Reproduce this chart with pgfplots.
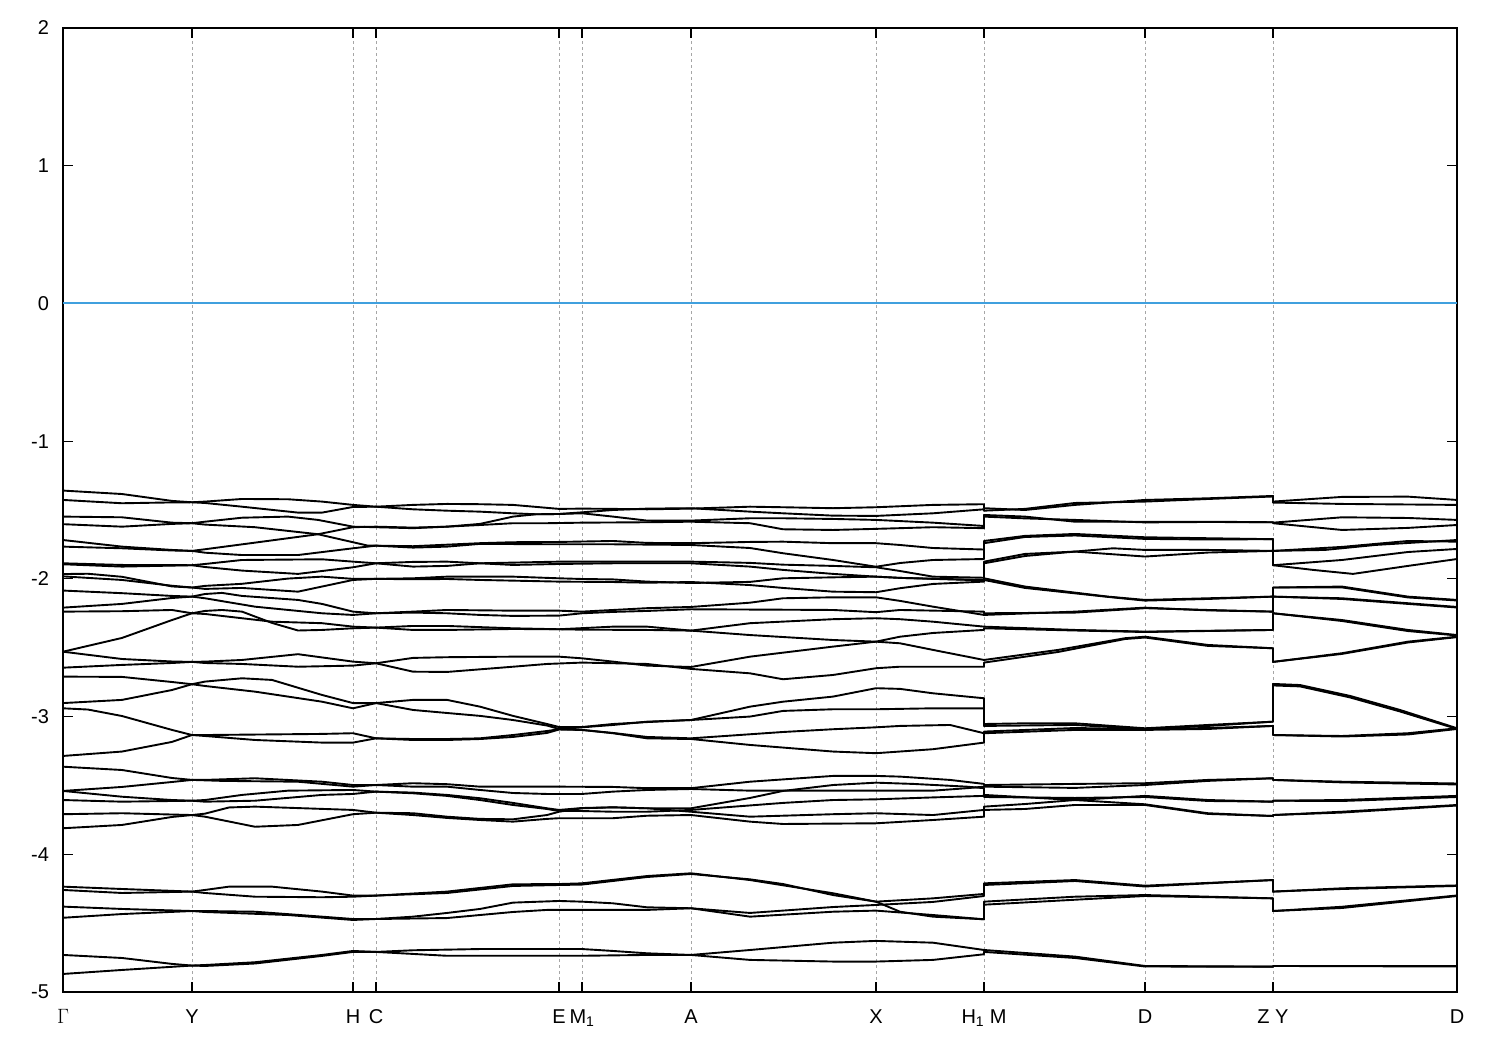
\documentclass[border=0pt]{standalone}
\usepackage{fontspec}
\setmainfont{Liberation Sans}
\usepackage{pgfplots}
\pgfplotsset{compat=1.18}
\definecolor{zeroblue}{RGB}{64,160,222}
\begin{document}
\begin{tikzpicture}[x=1pt,y=1pt]
\useasboundingbox (0,0) rectangle (1500,1050);
\begin{axis}[
 at={(63pt,58pt)}, anchor=south west,
 scale only axis, width=1394pt, height=964pt,
 xmin=0, xmax=1394, ymin=-5, ymax=2,
 ytick={-5,-4,-3,-2,-1,0,1,2},
 xtick={0,129,290,313,496,519,628,813,921,1082,1210,1394},
 xticklabels={$\Gamma$,Y,H,C,E,M\textsubscript{1},A,X,H\textsubscript{1} M,D,Z Y,D},
 xmajorgrids,
 major grid style={draw=black!35, line width=1pt, dash pattern=on 3pt off 3pt},
 tick align=inside, major tick length=10pt,
 axis line style={line width=1.8pt},
 tick style={line width=1.1pt, black},
 tick label style={font=\fontsize{20}{24}\selectfont},
 /pgf/number format/assume math mode=true,
 xticklabel style={yshift=-14pt},
 yticklabel style={xshift=-10.5pt},
 band/.style={black, line width=1.9pt, line join=round, mark=none},
]
\addplot[color=zeroblue, line width=2pt, mark=none] coordinates {(0,0) (1394,0)};
% band 1
\addplot[band] coordinates {(0,-1.359)(59,-1.384)(109,-1.434)(129,-1.444)(142,-1.439)(179,-1.420)(225,-1.422)(259,-1.439)(290,-1.463)(313,-1.476)(350,-1.463)(384,-1.456)(417,-1.458)(450,-1.463)(496,-1.492)(519,-1.490)(550,-1.492)(584,-1.495)(628,-1.490)(687,-1.476)(720,-1.480)(770,-1.487)(813,-1.480)(870,-1.463)(921,-1.458)(921,-1.487)(962,-1.500)(1012,-1.463)(1082,-1.427)(1145,-1.415)(1210,-1.398)(1210,-1.439)(1279,-1.405)(1345,-1.403)(1394,-1.427)};
% band 2
\addplot[band] coordinates {(0,-1.427)(59,-1.451)(109,-1.445)(129,-1.444)(142,-1.449)(179,-1.476)(235,-1.519)(259,-1.519)(290,-1.478)(313,-1.476)(350,-1.495)(384,-1.505)(417,-1.512)(450,-1.524)(473,-1.531)(496,-1.529)(519,-1.524)(550,-1.548)(584,-1.577)(628,-1.577)(687,-1.560)(720,-1.560)(770,-1.565)(813,-1.572)(870,-1.592)(921,-1.616)(921,-1.536)(962,-1.548)(1012,-1.585)(1082,-1.585)(1145,-1.585)(1210,-1.589)(1210,-1.592)(1279,-1.553)(1345,-1.558)(1394,-1.572)};
% band 3
\addplot[band] coordinates {(0,-1.548)(59,-1.553)(109,-1.592)(129,-1.596)(142,-1.585)(179,-1.556)(225,-1.548)(255,-1.572)(290,-1.621)(313,-1.625)(350,-1.632)(384,-1.621)(417,-1.601)(450,-1.548)(473,-1.531)(496,-1.529)(519,-1.517)(550,-1.500)(584,-1.490)(628,-1.487)(687,-1.512)(720,-1.524)(770,-1.541)(813,-1.543)(870,-1.524)(921,-1.495)(921,-1.505)(962,-1.492)(1012,-1.449)(1082,-1.439)(1145,-1.420)(1210,-1.402)(1210,-1.446)(1279,-1.456)(1345,-1.460)(1394,-1.463)};
% band 4
\addplot[band] coordinates {(0,-1.603)(59,-1.621)(109,-1.601)(129,-1.596)(142,-1.606)(192,-1.625)(255,-1.676)(305,-1.759)(313,-1.759)(350,-1.763)(417,-1.741)(450,-1.734)(496,-1.732)(550,-1.725)(584,-1.739)(628,-1.741)(687,-1.732)(720,-1.730)(770,-1.741)(813,-1.741)(837,-1.754)(870,-1.776)(921,-1.787)(921,-1.725)(962,-1.688)(1012,-1.674)(1082,-1.698)(1145,-1.705)(1210,-1.712)(1210,-1.797)(1262,-1.790)(1312,-1.754)(1394,-1.718)};
% band 5
\addplot[band] coordinates {(0,-1.718)(59,-1.766)(109,-1.790)(129,-1.797)(142,-1.785)(192,-1.737)(255,-1.676)(290,-1.625)(313,-1.621)(350,-1.628)(384,-1.621)(417,-1.609)(450,-1.596)(484,-1.596)(519,-1.592)(584,-1.589)(628,-1.585)(687,-1.596)(720,-1.640)(770,-1.645)(813,-1.637)(870,-1.625)(921,-1.632)(921,-1.548)(962,-1.561)(1012,-1.572)(1082,-1.590)(1145,-1.587)(1210,-1.589)(1210,-1.596)(1279,-1.645)(1345,-1.630)(1394,-1.609)};
% band 6
\addplot[band] coordinates {(0,-1.766)(59,-1.778)(109,-1.794)(129,-1.797)(142,-1.810)(179,-1.827)(235,-1.827)(290,-1.778)(313,-1.759)(350,-1.773)(384,-1.766)(417,-1.746)(496,-1.749)(550,-1.749)(628,-1.754)(687,-1.776)(720,-1.814)(770,-1.863)(813,-1.912)(837,-1.885)(870,-1.863)(921,-1.856)(921,-1.741)(962,-1.696)(1012,-1.685)(1082,-1.710)(1145,-1.714)(1210,-1.712)(1210,-1.797)(1279,-1.768)(1345,-1.725)(1394,-1.730)};
% band 7
\addplot[band] coordinates {(0,-1.887)(59,-1.899)(129,-1.901)(142,-1.892)(179,-1.863)(259,-1.858)(290,-1.875)(313,-1.887)(350,-1.911)(384,-1.906)(417,-1.887)(450,-1.882)(496,-1.875)(550,-1.875)(628,-1.875)(687,-1.884)(720,-1.897)(770,-1.906)(813,-1.916)(837,-1.943)(870,-1.984)(921,-1.992)(921,-1.875)(962,-1.819)(1012,-1.802)(1050,-1.778)(1082,-1.790)(1145,-1.790)(1210,-1.797)(1210,-1.901)(1279,-1.863)(1345,-1.805)(1394,-1.783)};
% band 8
\addplot[band] coordinates {(0,-1.894)(59,-1.911)(129,-1.901)(142,-1.914)(179,-1.940)(235,-1.964)(290,-1.916)(313,-1.887)(350,-1.877)(384,-1.875)(417,-1.887)(450,-1.899)(496,-1.892)(550,-1.887)(628,-1.887)(687,-1.911)(720,-1.935)(770,-1.964)(813,-1.984)(837,-1.993)(921,-2.008)(921,-1.887)(962,-1.834)(1012,-1.802)(1082,-1.838)(1145,-1.809)(1210,-1.797)(1210,-1.901)(1250,-1.935)(1290,-1.964)(1345,-1.906)(1394,-1.856)};
% band 9
\addplot[band] coordinates {(0,-1.965)(25,-1.963)(59,-1.985)(109,-2.055)(129,-2.063)(142,-2.051)(179,-2.036)(225,-1.998)(259,-1.984)(290,-2.000)(313,-2.000)(350,-1.996)(384,-1.984)(450,-1.984)(496,-1.996)(519,-2.001)(550,-2.004)(584,-2.020)(628,-2.030)(687,-2.022)(720,-1.996)(770,-1.989)(813,-1.984)(837,-1.993)(921,-2.011)(921,-1.996)(962,-2.056)(1045,-2.129)(1082,-2.153)(1145,-2.141)(1210,-2.129)(1210,-2.063)(1279,-2.056)(1345,-2.129)(1394,-2.153)};
% band 10
\addplot[band] coordinates {(0,-1.982)(59,-2.008)(109,-2.050)(129,-2.063)(142,-2.073)(179,-2.066)(235,-2.093)(290,-2.008)(313,-2.000)(350,-2.003)(384,-2.001)(417,-2.008)(450,-2.013)(496,-2.020)(550,-2.023)(584,-2.028)(628,-2.023)(687,-2.045)(720,-2.066)(770,-2.093)(813,-2.097)(837,-2.068)(870,-2.037)(921,-2.020)(921,-2.008)(962,-2.066)(1045,-2.131)(1082,-2.158)(1145,-2.146)(1210,-2.129)(1210,-2.063)(1279,-2.062)(1345,-2.135)(1394,-2.157)};
% band 11
\addplot[band] coordinates {(0,-2.085)(59,-2.104)(109,-2.124)(129,-2.129)(142,-2.110)(159,-2.102)(179,-2.124)(235,-2.153)(259,-2.182)(290,-2.238)(313,-2.250)(350,-2.238)(384,-2.226)(450,-2.231)(496,-2.231)(519,-2.238)(550,-2.226)(584,-2.213)(628,-2.204)(687,-2.173)(720,-2.141)(770,-2.134)(813,-2.134)(837,-2.160)(870,-2.202)(921,-2.262)(921,-2.262)(1012,-2.238)(1082,-2.209)(1145,-2.229)(1210,-2.238)(1210,-2.129)(1279,-2.146)(1345,-2.182)(1394,-2.208)};
% band 12
\addplot[band] coordinates {(0,-2.209)(59,-2.182)(109,-2.139)(129,-2.129)(142,-2.141)(192,-2.202)(259,-2.250)(290,-2.262)(313,-2.250)(350,-2.245)(384,-2.250)(417,-2.262)(450,-2.269)(496,-2.267)(519,-2.250)(550,-2.240)(584,-2.233)(628,-2.221)(720,-2.224)(770,-2.226)(813,-2.242)(837,-2.226)(921,-2.238)(921,-2.250)(1012,-2.245)(1082,-2.213)(1145,-2.226)(1210,-2.238)(1210,-2.129)(1279,-2.141)(1345,-2.177)(1394,-2.204)};
% band 13
\addplot[band] coordinates {(0,-2.238)(59,-2.235)(109,-2.226)(129,-2.250)(142,-2.255)(179,-2.286)(209,-2.311)(259,-2.322)(290,-2.347)(313,-2.354)(350,-2.342)(384,-2.342)(450,-2.359)(496,-2.366)(519,-2.369)(584,-2.371)(628,-2.376)(687,-2.322)(770,-2.293)(813,-2.286)(837,-2.293)(870,-2.311)(921,-2.347)(921,-2.347)(1012,-2.371)(1082,-2.383)(1210,-2.371)(1210,-2.250)(1279,-2.299)(1345,-2.371)(1394,-2.408)};
% band 14
\addplot[band] coordinates {(0,-2.529)(59,-2.429)(109,-2.299)(129,-2.250)(142,-2.233)(159,-2.226)(179,-2.238)(209,-2.320)(235,-2.375)(259,-2.371)(290,-2.359)(313,-2.354)(350,-2.371)(384,-2.371)(450,-2.364)(496,-2.366)(550,-2.347)(584,-2.347)(610,-2.364)(628,-2.376)(687,-2.408)(770,-2.444)(813,-2.456)(837,-2.468)(870,-2.516)(921,-2.589)(921,-2.589)(995,-2.516)(1062,-2.431)(1082,-2.420)(1145,-2.480)(1210,-2.504)(1210,-2.603)(1279,-2.540)(1345,-2.456)(1394,-2.420)};
% band 15
\addplot[band] coordinates {(0,-2.529)(59,-2.582)(109,-2.600)(129,-2.603)(142,-2.601)(179,-2.589)(235,-2.547)(290,-2.601)(313,-2.613)(350,-2.574)(384,-2.569)(450,-2.565)(496,-2.565)(519,-2.577)(550,-2.601)(584,-2.630)(628,-2.640)(687,-2.565)(770,-2.492)(813,-2.456)(837,-2.420)(870,-2.393)(921,-2.371)(921,-2.359)(1012,-2.375)(1082,-2.386)(1210,-2.371)(1210,-2.250)(1279,-2.306)(1345,-2.379)(1394,-2.411)};
% band 16
\addplot[band] coordinates {(0,-2.645)(59,-2.625)(109,-2.611)(129,-2.603)(142,-2.611)(179,-2.618)(235,-2.638)(290,-2.630)(313,-2.613)(350,-2.674)(384,-2.676)(450,-2.638)(484,-2.618)(519,-2.608)(584,-2.618)(628,-2.654)(687,-2.686)(720,-2.729)(770,-2.698)(813,-2.649)(837,-2.638)(921,-2.638)(921,-2.608)(995,-2.531)(1062,-2.437)(1082,-2.426)(1145,-2.487)(1210,-2.504)(1210,-2.603)(1279,-2.545)(1345,-2.462)(1394,-2.423)};
% band 17
\addplot[band] coordinates {(0,-2.710)(59,-2.712)(109,-2.749)(129,-2.765)(142,-2.746)(179,-2.722)(209,-2.734)(259,-2.843)(290,-2.902)(313,-2.902)(350,-2.879)(384,-2.879)(417,-2.928)(450,-2.995)(484,-3.054)(496,-3.076)(519,-3.076)(550,-3.054)(584,-3.040)(628,-3.025)(687,-2.928)(720,-2.892)(770,-2.855)(813,-2.794)(837,-2.799)(870,-2.831)(921,-2.867)(921,-3.054)(962,-3.049)(1012,-3.049)(1082,-3.085)(1145,-3.061)(1210,-3.037)(1210,-2.763)(1237,-2.771)(1287,-2.850)(1337,-2.952)(1394,-3.085)};
% band 18
\addplot[band] coordinates {(0,-2.902)(59,-2.879)(109,-2.807)(129,-2.765)(142,-2.778)(192,-2.819)(259,-2.892)(290,-2.940)(313,-2.902)(350,-2.952)(384,-2.974)(417,-2.995)(450,-3.025)(484,-3.065)(496,-3.090)(519,-3.097)(550,-3.119)(584,-3.148)(628,-3.158)(720,-3.112)(770,-3.092)(813,-3.078)(837,-3.068)(887,-3.061)(921,-3.121)(921,-3.109)(1012,-3.083)(1082,-3.092)(1145,-3.083)(1210,-3.068)(1210,-3.134)(1279,-3.141)(1345,-3.121)(1394,-3.085)};
% band 19
\addplot[band] coordinates {(0,-2.940)(25,-2.949)(59,-2.996)(109,-3.097)(129,-3.134)(142,-3.134)(259,-3.126)(290,-3.121)(313,-3.158)(350,-3.163)(384,-3.163)(417,-3.158)(450,-3.134)(484,-3.105)(496,-3.092)(519,-3.078)(550,-3.061)(584,-3.037)(628,-3.025)(687,-3.000)(720,-2.959)(770,-2.947)(813,-2.947)(870,-2.940)(921,-2.940)(921,-3.068)(1012,-3.061)(1082,-3.090)(1145,-3.068)(1210,-3.037)(1210,-2.774)(1237,-2.781)(1287,-2.861)(1337,-2.963)(1394,-3.090)};
% band 20
\addplot[band] coordinates {(0,-3.286)(59,-3.254)(109,-3.184)(129,-3.134)(142,-3.141)(192,-3.170)(259,-3.189)(290,-3.189)(313,-3.158)(350,-3.170)(384,-3.170)(417,-3.163)(450,-3.148)(484,-3.119)(496,-3.094)(519,-3.097)(550,-3.121)(584,-3.158)(628,-3.163)(687,-3.206)(770,-3.254)(813,-3.266)(870,-3.237)(921,-3.189)(921,-3.121)(1012,-3.097)(1082,-3.097)(1145,-3.090)(1210,-3.068)(1210,-3.134)(1279,-3.145)(1345,-3.130)(1394,-3.090)};
% band 21
\addplot[band] coordinates {(0,-3.364)(59,-3.388)(109,-3.446)(129,-3.460)(142,-3.460)(192,-3.448)(259,-3.473)(290,-3.497)(313,-3.497)(350,-3.484)(384,-3.491)(417,-3.509)(496,-3.509)(550,-3.511)(584,-3.520)(628,-3.520)(687,-3.473)(770,-3.431)(813,-3.431)(837,-3.436)(887,-3.460)(921,-3.489)(921,-3.497)(1012,-3.489)(1082,-3.484)(1145,-3.460)(1210,-3.448)(1210,-3.460)(1279,-3.473)(1394,-3.486)};
% band 22
\addplot[band] coordinates {(0,-3.540)(59,-3.511)(109,-3.475)(129,-3.460)(159,-3.467)(235,-3.473)(290,-3.509)(313,-3.497)(350,-3.509)(384,-3.509)(417,-3.533)(450,-3.555)(484,-3.562)(519,-3.562)(550,-3.545)(584,-3.533)(628,-3.526)(687,-3.538)(770,-3.538)(813,-3.538)(870,-3.538)(904,-3.520)(921,-3.509)(921,-3.509)(1012,-3.518)(1082,-3.497)(1145,-3.467)(1210,-3.448)(1210,-3.460)(1279,-3.478)(1394,-3.493)};
% band 23
\addplot[band] coordinates {(0,-3.540)(59,-3.582)(109,-3.606)(129,-3.611)(142,-3.606)(179,-3.569)(225,-3.538)(290,-3.533)(313,-3.545)(350,-3.552)(384,-3.569)(417,-3.593)(450,-3.627)(484,-3.666)(496,-3.678)(519,-3.664)(550,-3.659)(584,-3.666)(628,-3.666)(687,-3.591)(720,-3.540)(770,-3.497)(813,-3.480)(850,-3.489)(904,-3.509)(921,-3.520)(921,-3.569)(1012,-3.606)(1082,-3.576)(1145,-3.606)(1210,-3.618)(1210,-3.611)(1279,-3.606)(1394,-3.576)};
% band 24
\addplot[band] coordinates {(0,-3.606)(59,-3.618)(129,-3.611)(142,-3.618)(192,-3.611)(259,-3.569)(290,-3.562)(313,-3.545)(350,-3.557)(384,-3.576)(417,-3.606)(450,-3.642)(484,-3.671)(496,-3.686)(519,-3.686)(550,-3.691)(584,-3.691)(628,-3.678)(720,-3.627)(770,-3.606)(813,-3.601)(870,-3.587)(921,-3.576)(921,-3.584)(1012,-3.591)(1082,-3.584)(1145,-3.613)(1210,-3.618)(1210,-3.611)(1279,-3.613)(1394,-3.584)};
% band 25
\addplot[band] coordinates {(0,-3.709)(59,-3.702)(129,-3.715)(142,-3.705)(166,-3.660)(192,-3.654)(290,-3.678)(313,-3.698)(350,-3.702)(384,-3.727)(417,-3.743)(450,-3.746)(484,-3.715)(496,-3.691)(519,-3.666)(550,-3.659)(584,-3.666)(628,-3.691)(687,-3.727)(770,-3.709)(813,-3.702)(870,-3.715)(921,-3.678)(921,-3.654)(962,-3.635)(1012,-3.606)(1082,-3.637)(1145,-3.702)(1210,-3.722)(1210,-3.715)(1279,-3.691)(1394,-3.642)};
% band 26
\addplot[band] coordinates {(0,-3.811)(59,-3.787)(109,-3.729)(129,-3.715)(142,-3.727)(192,-3.800)(235,-3.787)(290,-3.709)(313,-3.698)(350,-3.715)(384,-3.736)(417,-3.751)(450,-3.763)(484,-3.743)(496,-3.738)(550,-3.738)(584,-3.720)(628,-3.715)(687,-3.763)(720,-3.780)(813,-3.775)(870,-3.751)(921,-3.727)(921,-3.678)(962,-3.671)(1012,-3.642)(1082,-3.642)(1145,-3.707)(1210,-3.722)(1210,-3.715)(1279,-3.697)(1394,-3.646)};
% band 27
\addplot[band] coordinates {(0,-4.235)(59,-4.252)(129,-4.271)(142,-4.259)(166,-4.235)(209,-4.235)(259,-4.271)(290,-4.300)(313,-4.300)(384,-4.271)(450,-4.218)(496,-4.216)(519,-4.211)(584,-4.158)(628,-4.138)(687,-4.187)(770,-4.283)(813,-4.344)(870,-4.320)(921,-4.288)(921,-4.211)(1012,-4.187)(1082,-4.228)(1210,-4.187)(1210,-4.271)(1279,-4.247)(1394,-4.226)};
% band 28
\addplot[band] coordinates {(0,-4.259)(59,-4.281)(129,-4.271)(142,-4.281)(192,-4.308)(259,-4.312)(290,-4.308)(313,-4.300)(384,-4.281)(450,-4.230)(496,-4.223)(519,-4.220)(584,-4.165)(628,-4.143)(687,-4.182)(720,-4.216)(770,-4.296)(813,-4.344)(837,-4.417)(870,-4.453)(921,-4.472)(921,-4.344)(1012,-4.308)(1082,-4.296)(1210,-4.320)(1210,-4.412)(1279,-4.381)(1394,-4.299)};
% band 29
\addplot[band] coordinates {(0,-4.380)(59,-4.397)(129,-4.412)(142,-4.412)(192,-4.417)(259,-4.453)(290,-4.470)(313,-4.470)(350,-4.453)(384,-4.426)(417,-4.397)(450,-4.351)(496,-4.339)(519,-4.344)(550,-4.356)(584,-4.385)(628,-4.392)(687,-4.453)(770,-4.417)(813,-4.409)(870,-4.441)(921,-4.472)(921,-4.366)(1012,-4.330)(1082,-4.303)(1210,-4.320)(1210,-4.412)(1279,-4.390)(1394,-4.303)};
% band 30
\addplot[band] coordinates {(0,-4.461)(59,-4.434)(129,-4.412)(142,-4.419)(225,-4.441)(290,-4.477)(313,-4.470)(384,-4.463)(450,-4.419)(484,-4.404)(519,-4.404)(584,-4.404)(628,-4.392)(687,-4.426)(770,-4.383)(813,-4.368)(870,-4.346)(921,-4.303)(921,-4.223)(1012,-4.194)(1082,-4.234)(1210,-4.187)(1210,-4.271)(1279,-4.252)(1394,-4.230)};
% band 31
\addplot[band] coordinates {(0,-4.731)(59,-4.753)(109,-4.796)(129,-4.808)(142,-4.804)(192,-4.784)(259,-4.731)(290,-4.702)(313,-4.709)(350,-4.697)(417,-4.688)(496,-4.688)(519,-4.688)(550,-4.702)(584,-4.719)(628,-4.731)(687,-4.695)(770,-4.642)(813,-4.629)(870,-4.642)(921,-4.695)(921,-4.695)(1012,-4.743)(1082,-4.811)(1210,-4.816)(1210,-4.811)(1394,-4.811)};
% band 32
\addplot[band] coordinates {(0,-4.869)(59,-4.840)(129,-4.808)(142,-4.811)(192,-4.793)(259,-4.738)(290,-4.709)(313,-4.709)(384,-4.737)(496,-4.737)(519,-4.737)(584,-4.731)(628,-4.731)(687,-4.767)(770,-4.779)(813,-4.779)(870,-4.767)(921,-4.726)(921,-4.709)(1012,-4.753)(1082,-4.815)(1210,-4.816)(1210,-4.811)(1394,-4.815)};
\end{axis}
\end{tikzpicture}
\end{document}
